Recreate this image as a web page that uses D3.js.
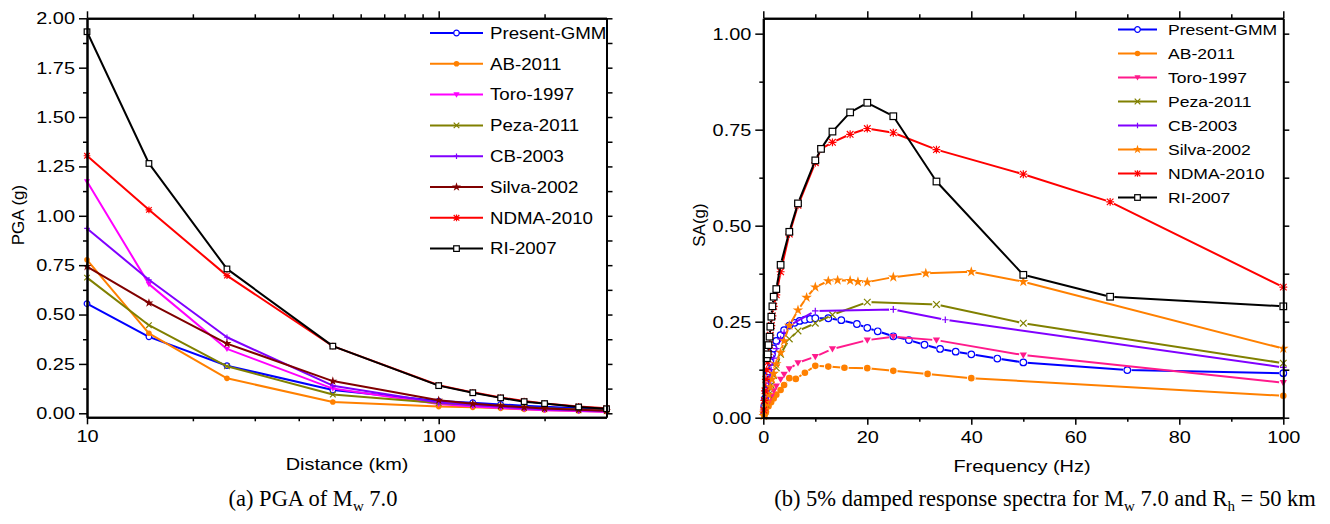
<!DOCTYPE html>
<html><head><meta charset="utf-8">
<script src="https://cdn.jsdelivr.net/npm/d3@7"></script>
<style>
body{margin:0;background:#fff}
svg text{font-family:"Liberation Sans",Arial,sans-serif;fill:#000}
svg text.cap{font-family:"Liberation Serif","Times New Roman",serif}
</style></head>
<body><svg id="c" width="1330" height="524"></svg>
<script>
// ---------- DATA ----------
const seriesNames = ["Present-GMM","AB-2011","Toro-1997","Peza-2011","CB-2003","Silva-2002","NDMA-2010","RI-2007"];

// (a) PGA vs distance
const distances = [10,15,25,50,100,125,150,175,200,250,300];
const pgaPresent = [0.555,0.387,0.241,0.118,0.062,0.054,0.045,0.038,0.033,0.026,0.020];
const pgaAB      = [0.777,0.405,0.177,0.057,0.034,0.030,0.025,0.020,0.017,0.012,0.009];
const pgaToro    = [1.174,0.654,0.326,0.125,0.047,0.035,0.027,0.021,0.016,0.011,0.007];
const pgaPeza    = [0.687,0.446,0.238,0.095,0.052,0.043,0.036,0.030,0.025,0.019,0.014];
const pgaCB      = [0.936,0.676,0.385,0.140,0.055,0.042,0.033,0.026,0.021,0.015,0.011];
const pgaSilva   = [0.743,0.559,0.353,0.163,0.066,0.048,0.038,0.030,0.024,0.018,0.013];
const pgaNDMA    = [1.304,1.030,0.697,0.340,0.142,0.106,0.080,0.062,0.050,0.035,0.026];
const pgaRI      = [1.932,1.265,0.731,0.340,0.140,0.104,0.078,0.059,0.049,0.032,0.023];

// (b) response spectra: frequency (Hz) and SA (g)
const fPresent = [0.2,0.33,0.5,0.67,1,1.33,1.67,2,2.5,3.33,4,5,6,7,8,9,10,12.5,15,18,20,22,25,28,31,34,37,40,45,50,70,100];
const saPresent = [0.03,0.05,0.07,0.09,0.12,0.145,0.165,0.18,0.2,0.215,0.228,0.24,0.247,0.252,0.255,0.257,0.259,0.259,0.254,0.244,0.234,0.225,0.212,0.202,0.19,0.179,0.172,0.165,0.154,0.144,0.124,0.116];
const fAB  = [0.2,0.5,1,1.5,2,2.5,3.33,4,5,6.25,8,10,12.5,15.6,20,25,31.6,40,100];
const saAB = [0.005,0.015,0.03,0.04,0.05,0.06,0.072,0.085,0.103,0.101,0.117,0.135,0.133,0.13,0.129,0.122,0.114,0.103,0.057];
const fToro  = [0.2,0.5,1,1.5,2,2.5,3.33,4,5,6.67,10,13.3,20,25,33.3,50,100];
const saToro = [0.01,0.02,0.04,0.055,0.07,0.082,0.1,0.113,0.127,0.143,0.159,0.179,0.202,0.211,0.202,0.163,0.091];
const fPeza  = [0.1,0.2,0.5,1,1.5,2,2.5,3.33,5,6.67,10,13.3,20,33.3,50,100];
const saPeza = [0.005,0.015,0.035,0.06,0.085,0.11,0.13,0.165,0.205,0.226,0.246,0.268,0.301,0.295,0.246,0.142];
const fCB  = [0.1,0.2,0.5,1,1.5,2,2.5,3.33,4,5,10,25,35,100];
const saCB = [0.01,0.02,0.05,0.09,0.125,0.155,0.18,0.205,0.222,0.24,0.278,0.282,0.255,0.131];
const fSilva  = [0.1,0.2,0.33,0.5,0.67,1,1.33,1.67,2,2.5,3.33,4,5,6.67,8.33,10,12.5,14.3,16.7,18.2,20,25,31.25,40,50,100];
const saSilva = [0.005,0.012,0.02,0.03,0.04,0.06,0.08,0.1,0.115,0.14,0.17,0.2,0.24,0.28,0.313,0.34,0.356,0.358,0.357,0.354,0.353,0.366,0.376,0.38,0.354,0.18];
const fNDMA  = [0.1,0.2,0.33,0.5,0.67,0.85,1,1.2,1.35,1.55,1.75,2,2.5,3.33,5,6.67,10,11.1,13.3,16.7,20,25,33.3,50,66.7,100];
const saNDMA = [0.02,0.045,0.07,0.1,0.125,0.145,0.165,0.19,0.215,0.24,0.265,0.29,0.32,0.38,0.478,0.553,0.664,0.70,0.717,0.738,0.753,0.742,0.698,0.634,0.562,0.34];
const fRI  = [0.67,0.85,1,1.2,1.35,1.55,1.75,2,2.5,3.33,5,6.67,10,11.1,13.3,16.7,20,25,33.3,50,66.7,100];
const saRI = [0.155,0.165,0.189,0.211,0.237,0.263,0.29,0.315,0.335,0.398,0.484,0.558,0.67,0.70,0.745,0.795,0.82,0.785,0.615,0.372,0.315,0.29];

const pgaTicks = [0,0.25,0.5,0.75,1,1.25,1.5,1.75,2];
const distTicks = [10,100];
const saTicks = [0,0.25,0.5,0.75,1];
const freqTicks = [0,20,40,60,80,100];

// ---------- STYLE ----------
const markerTypes = ["circleOpen","circle","triDown","x","plus","star","asterisk","squareOpen"];
const colorsA = ["#0000FF","#FF8000","#FF00FF","#808000","#8000FF","#800000","#FF0000","#000000"];
const colorsB = ["#0000FF","#FF8000","#FF1A8C","#808000","#8000FF","#FF8000","#FF0000","#000000"];
const SX = 1.17;

const svg = d3.select("#c");
const defs = svg.append("defs");
let maskId = 0;

function stretch(sel){
  sel.each(function(){
    const t=d3.select(this); const x=+(t.attr("x")||0);
    t.attr("x", x/SX).attr("transform", `scale(${SX},1)`);
  });
}

function marker(g, type, color, r){
  const sw=1.2;
  switch(type){
    case "circleOpen": g.append("circle").attr("r",r).attr("fill","#fff").attr("stroke",color).attr("stroke-width",sw); break;
    case "circle": g.append("circle").attr("r",r).attr("fill",color); break;
    case "triDown": g.append("path").attr("d",`M${-r*1.1},${-r*0.8}L${r*1.1},${-r*0.8}L0,${r*1.1}Z`).attr("fill",color); break;
    case "x": g.append("path").attr("d",`M${-r},${-r}L${r},${r}M${-r},${r}L${r},${-r}`).attr("stroke",color).attr("stroke-width",sw); break;
    case "plus": g.append("path").attr("d",`M${-r},0L${r},0M0,${-r}L0,${r}`).attr("stroke",color).attr("stroke-width",sw); break;
    case "star": g.append("path").attr("d",d3.symbol(d3.symbolStar, r*r*3.2)()).attr("fill",color); break;
    case "asterisk": g.append("path").attr("d",`M${-r},${-r}L${r},${r}M${-r},${r}L${r},${-r}M${-r*1.2},0L${r*1.2},0M0,${-r*1.2}L0,${r*1.2}`).attr("stroke",color).attr("stroke-width",sw); break;
    case "squareOpen": g.append("rect").attr("x",-r).attr("y",-r).attr("width",2*r).attr("height",2*r).attr("fill","#fff").attr("stroke",color).attr("stroke-width",sw); break;
  }
}

function styleAxis(g){
  g.select(".domain").attr("stroke","#000").attr("stroke-width",2);
  g.selectAll(".tick line").attr("stroke","#000").attr("stroke-width",1.5);
  g.selectAll(".tick text").attr("font-size",17).attr("fill","#000");
}

function frame(x, y, o){
  const y0=y.range()[0], y1=y.range()[1];
  const x0=x.range()[0], x1=x.range()[1];
  const g = svg.append("g");
  let a;
  a = g.append("g").attr("transform",`translate(0,${y0})`).call(d3.axisBottom(x).tickValues(o.xMajor).tickSize(7).tickSizeOuter(0).tickPadding(6).tickFormat(o.xFmt));
  styleAxis(a); stretch(a.selectAll(".tick text"));
  a = g.append("g").attr("transform",`translate(0,${y0})`).call(d3.axisBottom(x).tickValues(o.xMinor).tickSize(4).tickSizeOuter(0).tickFormat(""));
  styleAxis(a);
  a = g.append("g").attr("transform",`translate(0,${y1})`).call(d3.axisTop(x).tickValues(o.xMajor).tickSize(7).tickSizeOuter(0).tickFormat(""));
  styleAxis(a);
  a = g.append("g").attr("transform",`translate(0,${y1})`).call(d3.axisTop(x).tickValues(o.xMinor).tickSize(4).tickSizeOuter(0).tickFormat(""));
  styleAxis(a);
  a = g.append("g").attr("transform",`translate(${x0},0)`).call(d3.axisLeft(y).tickValues(o.yMajor).tickSize(8).tickSizeOuter(0).tickPadding(4).tickFormat(d3.format(".2f")));
  styleAxis(a); stretch(a.selectAll(".tick text"));
  a = g.append("g").attr("transform",`translate(${x0},0)`).call(d3.axisLeft(y).tickValues(o.yMinor).tickSize(4).tickSizeOuter(0).tickFormat(""));
  styleAxis(a);
  a = g.append("g").attr("transform",`translate(${x1},0)`).call(d3.axisRight(y).tickValues(o.yMajor.concat(o.yMinor)).tickSize(6).tickSizeOuter(0).tickFormat(""));
  styleAxis(a);
}

function drawSeries(x, y, xs, ys, color, type, r, gap){
  const pts = xs.map((d,i)=>[x(d), y(ys[i])]);
  const path = svg.append("path").attr("d", d3.line()(pts)).attr("fill","none").attr("stroke",color).attr("stroke-width",2).attr("stroke-linejoin","round");
  if(gap){
    const id = "gap"+(maskId++);
    const m = defs.append("mask").attr("id",id).attr("maskUnits","userSpaceOnUse").attr("x",0).attr("y",0).attr("width",1330).attr("height",524);
    m.append("rect").attr("width",1330).attr("height",524).attr("fill","#fff");
    pts.forEach(p=>m.append("circle").attr("cx",p[0]).attr("cy",p[1]).attr("r",r+gap).attr("fill","#000"));
    path.attr("mask",`url(#${id})`);
  }
  const g = svg.append("g");
  pts.forEach(p=>{
    const m=g.append("g").attr("transform",`translate(${p[0]},${p[1]})`);
    marker(m,type,color,r);
  });
}

function legend(x0, x1, xt, y0, step, colors, fs, r){
  seriesNames.forEach((n,i)=>{
    const yy = y0 + i*step;
    svg.append("line").attr("x1",x0).attr("x2",x1).attr("y1",yy).attr("y2",yy).attr("stroke",colors[i]).attr("stroke-width",2);
    const m = svg.append("g").attr("transform",`translate(${(x0+x1)/2},${yy})`); marker(m, markerTypes[i], colors[i], r);
    const t = svg.append("text").attr("x",xt).attr("y",yy).attr("dy","0.36em").attr("font-size",fs).text(n);
    stretch(t);
  });
}

// ---------- (a) ----------
const xA = d3.scaleLog().domain([10,300]).range([87,606.5]);
const yA = d3.scaleLinear().domain([-0.0203,2]).range([417.3,18.3]);
const pgaSeries = [pgaPresent,pgaAB,pgaToro,pgaPeza,pgaCB,pgaSilva,pgaNDMA,pgaRI];
pgaSeries.forEach((s,i)=>drawSeries(xA,yA,distances,s,colorsA[i],markerTypes[i],2.8,0));
frame(xA,yA,{xMajor:distTicks,xMinor:[20,30,40,50,60,70,80,90,200],xFmt:d3.format("d"),
  yMajor:pgaTicks,yMinor:pgaTicks.slice(0,-1).map(d=>d+0.125)});
legend(430,483,490,33,30.8,colorsA,16,2.8);
svg.append("text").attr("transform","translate(24,215) rotate(-90)").attr("text-anchor","middle").attr("font-size",17).text("PGA (g)");
stretch(svg.append("text").attr("x",347).attr("y",470).attr("text-anchor","middle").attr("font-size",17).text("Distance (km)"));

// ---------- (b) ----------
const xB = d3.scaleLinear().domain([0,100]).range([763.3,1283.3]);
const yB = d3.scaleLinear().domain([0,1.04]).range([417.7,18.3]);
const fSeries = [fPresent,fAB,fToro,fPeza,fCB,fSilva,fNDMA,fRI];
const saSeries = [saPresent,saAB,saToro,saPeza,saCB,saSilva,saNDMA,saRI];
saSeries.forEach((s,i)=>drawSeries(xB,yB,fSeries[i],s,colorsB[i],markerTypes[i],3.3,1.0));
frame(xB,yB,{xMajor:freqTicks,xMinor:[10,30,50,70,90],xFmt:d3.format("d"),
  yMajor:saTicks,yMinor:[0.125,0.375,0.625,0.875]});
legend(1118,1157,1168,29.5,24,colorsB,15,2.8);
svg.append("text").attr("transform","translate(705,225) rotate(-90)").attr("text-anchor","middle").attr("font-size",17).text("SA(g)");
stretch(svg.append("text").attr("x",1022).attr("y",472).attr("text-anchor","middle").attr("font-size",17).text("Frequency (Hz)"));

// ---------- captions ----------
const capA = svg.append("text").attr("class","cap").attr("x",313).attr("y",506).attr("text-anchor","middle").attr("font-size",22.5);
capA.append("tspan").text("(a) PGA of M");
capA.append("tspan").attr("font-size",15).attr("dy",5).text("w");
capA.append("tspan").attr("dy",-5).text(" 7.0");
const capB = svg.append("text").attr("class","cap").attr("x",1045).attr("y",506).attr("text-anchor","middle").attr("font-size",22.5);
capB.append("tspan").text("(b) 5% damped response spectra for M");
capB.append("tspan").attr("font-size",15).attr("dy",5).text("w");
capB.append("tspan").attr("dy",-5).text(" 7.0 and R");
capB.append("tspan").attr("font-size",15).attr("dy",5).text("h");
capB.append("tspan").attr("dy",-5).text(" = 50 km");
</script>
</body></html>
